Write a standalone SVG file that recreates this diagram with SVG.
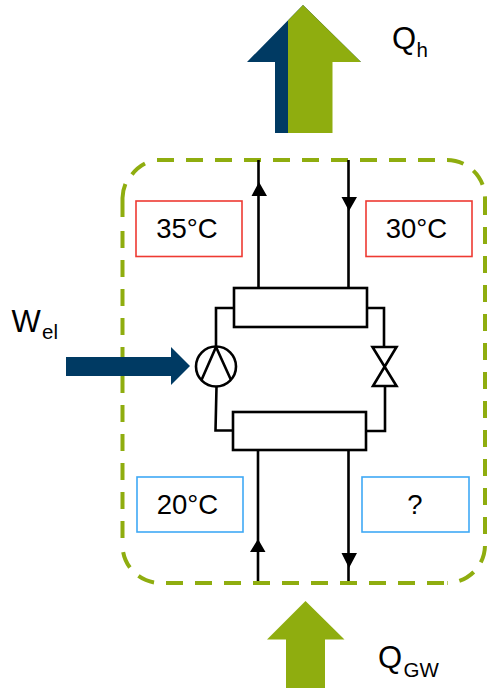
<svg xmlns="http://www.w3.org/2000/svg" width="489" height="690" viewBox="0 0 489 690">
<style>
.t{font-family:"Liberation Sans",Arial,sans-serif;fill:#000}
.v{font-size:27.500px;text-anchor:middle}
.q{font-size:31px}
.s{font-size:20.500px}
.l{fill:none;stroke:#000;stroke-width:2.600}
.r{fill:#fff;stroke:#ee3a32;stroke-width:1.600}
.b{fill:#fff;stroke:#3fa9f5;stroke-width:1.600}
.g{fill:#8fad0f}
.n{fill:#003a63}
.a{fill:#000}
.d{fill:none;stroke:#8fad0f;stroke-width:4}
</style>
<rect width="489" height="690" fill="#fff"/>
<g id="boundary">
<path class="d" stroke-dasharray="17 12" d="M157 160H447A38 38 0 0 1 485 198"/>
<path class="d" stroke-dasharray="17 12" d="M485 198V545A38 38 0 0 1 447 583"/>
<path class="d" stroke-dasharray="17 12" d="M444 583H160.500A38 38 0 0 1 122.500 545"/>
<path class="d" stroke-dasharray="17 12" d="M122.500 538V231"/>
<path class="d" d="M122.500 217V198A38 38 0 0 1 125.400 184M132 174.500A38 38 0 0 1 145 163.500"/>
</g>
<g id="connectors">
<path class="l" d="M258.500 160V288M348.500 160V288M258 450V581M348.500 450V581"/>
<path class="l" d="M234 308H216V347M216.500 387L215.500 430.500H233M367 308H384V347M385 386V431H366"/>
<path class="a" d="M259 182L267 196H251.500ZM341.500 197H357L349 211ZM258 539L265.500 552H250ZM341.500 553H357L349 568Z"/>
</g>
<g id="arrow-qh"><path class="n" d="M303 5L361 62H332V133H275V62H247Z"/><path class="g" d="M303 5L361 62H332.500V133H288V20.500Z"/></g>
<g id="arrow-qgw"><path class="g" d="M305.500 601L344.500 639.500H325V688H286V639.500H267Z"/></g>
<g id="arrow-wel"><path class="n" d="M66 357H171V347L190 366L171 385V376H66Z"/></g>
<g id="condenser"><rect class="l" x="234" y="288" width="133" height="39" style="fill:#fff"/></g>
<g id="evaporator"><rect class="l" x="233" y="412" width="133" height="38" style="fill:#fff"/></g>
<g id="compressor"><circle class="l" cx="216" cy="366.500" r="20" style="fill:#fff"/><path class="l" d="M201.500 380L216 347L231 380"/></g>
<g id="valve"><path class="l" d="M372.500 347H396.500L373 386H396.500Z" style="fill:#fff"/></g>
<g id="t35"><rect class="r" x="136" y="201" width="106" height="55.500"/><text class="t v" x="187" y="238">35°C</text></g>
<g id="t30"><rect class="r" x="366" y="201" width="106" height="55.500"/><text class="t v" x="416.500" y="238">30°C</text></g>
<g id="t20"><rect class="b" x="137" y="477" width="106" height="55"/><text class="t v" x="187.500" y="514">20°C</text></g>
<g id="tq"><rect class="b" x="362" y="477" width="107" height="55"/><text class="t v" x="415" y="514">?</text></g>
<g id="label-qh"><text class="t q" x="392" y="49">Q</text><text class="t s" x="416.500" y="57">h</text></g>
<g id="label-wel"><text class="t q" x="11.500" y="332">W</text><text class="t s" x="42" y="339">el</text></g>
<g id="label-qgw"><text class="t q" x="378" y="668">Q</text><text class="t s" x="403.500" y="677">GW</text></g>
</svg>
